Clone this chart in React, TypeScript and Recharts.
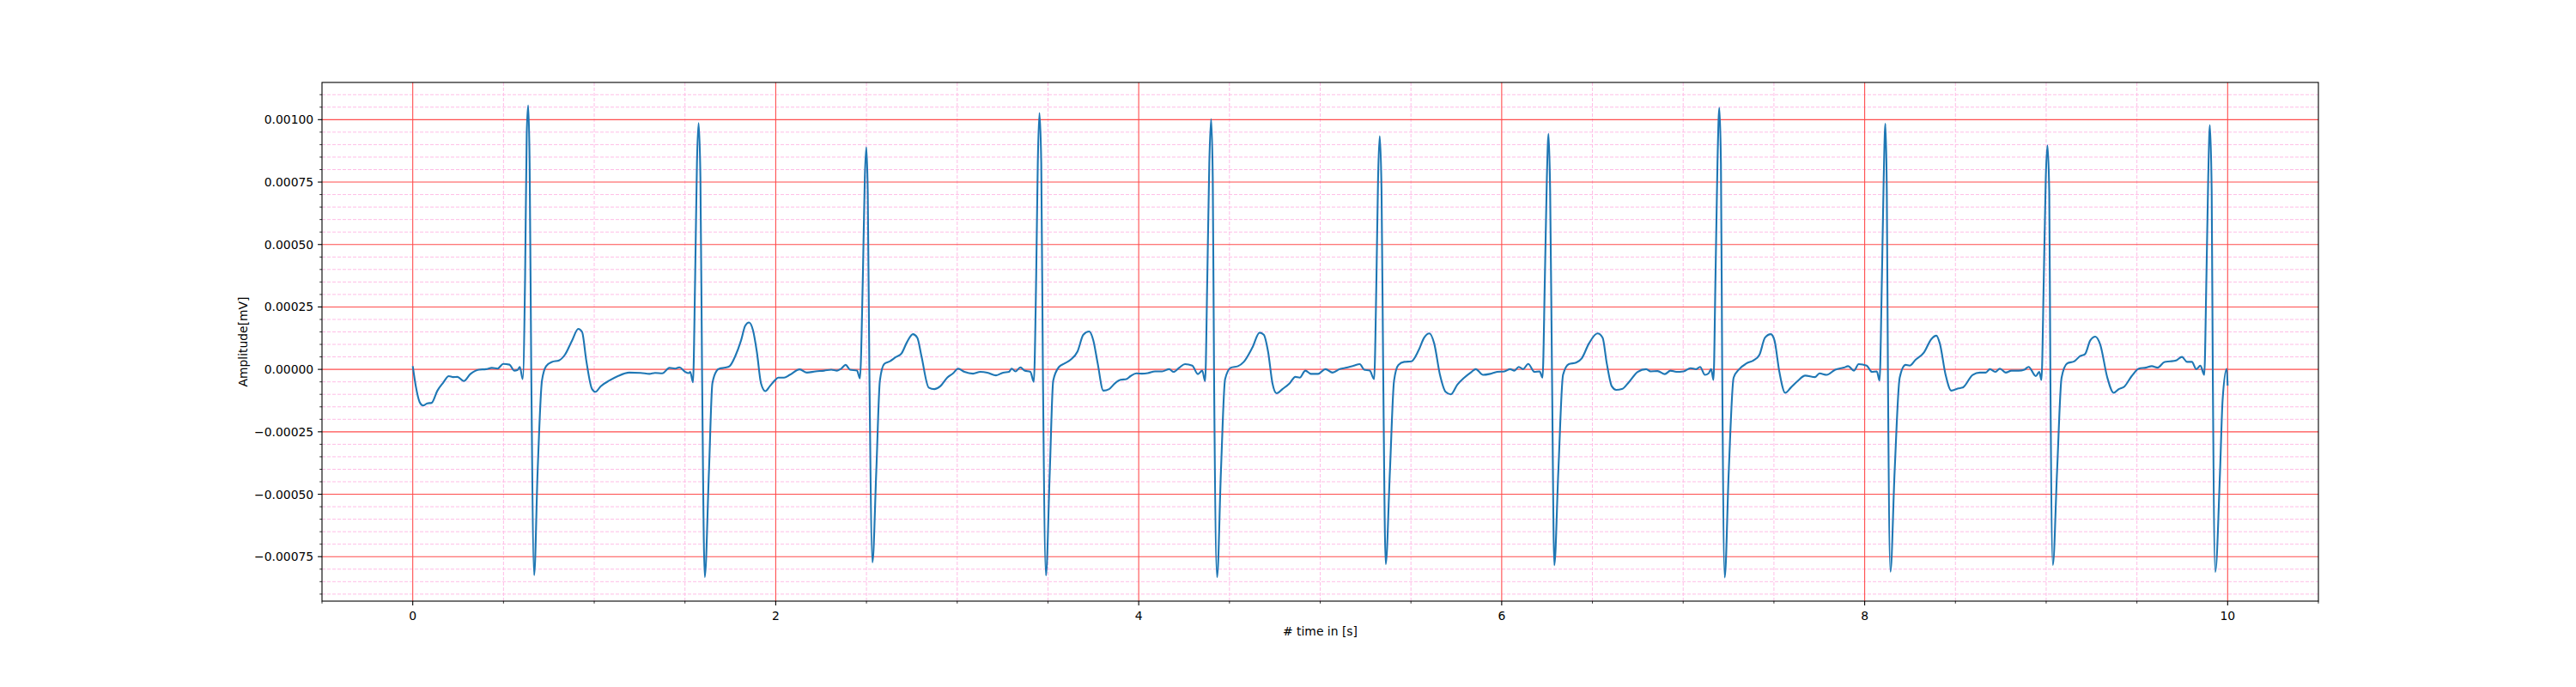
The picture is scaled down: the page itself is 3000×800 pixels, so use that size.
import { LineChart, Line, XAxis, YAxis, CartesianGrid } from 'recharts';

// ECG trace: [time in s, amplitude in units of 1e-4 mV]
const beat1 = [
  [0, 0.13], [0.017, -0.68], [0.038, -1.31], [0.057, -1.45], [0.08, -1.36], [0.104, -1.34],
  [0.136, -0.85], [0.167, -0.54], [0.199, -0.27], [0.223, -0.31], [0.246, -0.3], [0.281, -0.47],
  [0.317, -0.19], [0.365, -0.01], [0.404, 0.01], [0.436, 0.06], [0.467, 0.03], [0.499, 0.22],
  [0.533, 0.19], [0.559, -0.05], [0.578, -0.02], [0.59, 0.1], [0.606, -0.39], [0.619, 3.68],
  [0.628, 9.4], [0.636, 10.57], [0.644, 8.26], [0.653, 0], [0.669, -8.24], [0.688, -4.1],
  [0.712, -0.45], [0.735, 0.13], [0.767, 0.3], [0.806, 0.36], [0.838, 0.58], [0.878, 1.16],
  [0.912, 1.62], [0.933, 1.5], [0.956, 0.36], [0.988, -0.79], [1.007, -0.9], [1.035, -0.68],
  [1.083, -0.45], [1.13, -0.27], [1.193, -0.13], [1.256, -0.14], [1.304, -0.18], [1.335, -0.14],
  [1.375, -0.16], [1.414, 0.06], [1.446, 0.03], [1.469, 0.08], [1.501, -0.1], [1.521, -0.15],
  [1.529, -0.1],
];
const beat2 = [
  [1.544, -0.52], [1.556, 3.68], [1.566, 8.26], [1.575, 9.86], [1.585, 7.69], [1.594, 0],
  [1.609, -8.32], [1.632, -4.1], [1.651, -0.56], [1.675, -0.05], [1.69, 0.03], [1.722, 0.07],
  [1.746, 0.13], [1.777, 0.53], [1.809, 1.16], [1.832, 1.75], [1.853, 1.88], [1.875, 1.56],
  [1.896, 0.7], [1.919, -0.56], [1.943, -0.87], [1.967, -0.68], [1.998, -0.42], [2.014, -0.33],
  [2.046, -0.33], [2.077, -0.22], [2.132, 0], [2.172, -0.13], [2.219, -0.08], [2.267, -0.05],
  [2.306, -0.01], [2.338, -0.05], [2.361, 0.03], [2.385, 0.18], [2.409, -0.01], [2.448, -0.05],
];
const beat3 = [
  [2.464, -0.36], [2.48, 3.68], [2.491, 7.69], [2.499, 8.89], [2.507, 7.11], [2.516, 0],
  [2.533, -7.73], [2.554, -4.1], [2.574, -0.45], [2.598, 0.22], [2.63, 0.33], [2.661, 0.49],
  [2.693, 0.64], [2.724, 1.1], [2.756, 1.41], [2.78, 1.27], [2.803, 0.53], [2.843, -0.73],
  [2.874, -0.79], [2.906, -0.68], [2.945, -0.33], [2.977, -0.16], [3.005, 0.03], [3.04, -0.1],
  [3.087, -0.17], [3.127, -0.1], [3.166, -0.13], [3.214, -0.24], [3.253, -0.13], [3.285, -0.1],
  [3.3, 0.03], [3.321, -0.08], [3.348, 0.08], [3.371, -0.05], [3.403, -0.1],
];
const beat4 = [
  [3.422, -0.5], [3.435, 3.68], [3.444, 8.26], [3.453, 10.27], [3.463, 8.26], [3.472, 0],
  [3.489, -8.25], [3.51, -4.1], [3.529, -0.45], [3.561, 0.1], [3.592, 0.24], [3.624, 0.38],
  [3.663, 0.72], [3.695, 1.39], [3.727, 1.52], [3.75, 1.16], [3.774, 0.24], [3.805, -0.85],
  [3.837, -0.79], [3.869, -0.56], [3.9, -0.42], [3.932, -0.39], [3.955, -0.27], [3.987, -0.16],
  [4.018, -0.17], [4.05, -0.15], [4.09, -0.08], [4.129, -0.08], [4.168, 0.01], [4.192, -0.1],
  [4.224, 0.07], [4.255, 0.21], [4.295, 0.15], [4.326, -0.19], [4.35, -0.05],
];
const beat5 = [
  [4.366, -0.47], [4.378, 3.68], [4.389, 8.26], [4.399, 10.02], [4.408, 7.69], [4.415, 0],
  [4.432, -8.32], [4.453, -4.1], [4.476, -0.39], [4.508, 0.07], [4.547, 0.13], [4.579, 0.3],
  [4.626, 0.87], [4.666, 1.47], [4.689, 1.39], [4.713, 0.7], [4.737, -0.56], [4.76, -0.96],
  [4.792, -0.79], [4.831, -0.56], [4.863, -0.3], [4.887, -0.33], [4.918, -0.05], [4.95, -0.18],
  [4.989, -0.18], [5.029, 0.01], [5.068, -0.13], [5.108, 0.01], [5.147, 0.07], [5.186, 0.15],
  [5.218, 0.21], [5.242, -0.01], [5.273, -0.05],
];
const beat6 = [
  [5.297, -0.39], [5.31, 3.68], [5.319, 7.69], [5.328, 9.34], [5.338, 7.11], [5.347, 0],
  [5.361, -7.8], [5.384, -4.1], [5.407, -0.45], [5.431, 0.18], [5.463, 0.3], [5.502, 0.32],
  [5.542, 0.76], [5.573, 1.27], [5.602, 1.44], [5.628, 1.04], [5.66, -0.22], [5.691, -0.9],
  [5.72, -1.0], [5.755, -0.62], [5.794, -0.33], [5.834, -0.1], [5.857, 0.01], [5.897, -0.22],
  [5.936, -0.18], [5.975, -0.1], [6.015, -0.08], [6.047, 0.01], [6.07, -0.05], [6.094, 0.1],
  [6.118, 0.01], [6.146, 0.22], [6.181, -0.1], [6.209, -0.08],
];
const beat7 = [
  [6.225, -0.33], [6.238, 3.68], [6.249, 7.69], [6.258, 9.43], [6.267, 7.11], [6.277, 0],
  [6.29, -7.84], [6.312, -4.1], [6.338, -0.22], [6.37, 0.21], [6.41, 0.27], [6.441, 0.44],
  [6.481, 1.04], [6.528, 1.44], [6.556, 1.27], [6.579, 0.24], [6.607, -0.68], [6.631, -0.82],
  [6.662, -0.79], [6.702, -0.5], [6.749, -0.1], [6.796, 0.01], [6.82, -0.08], [6.859, -0.07],
  [6.899, -0.19], [6.93, -0.05], [6.962, -0.1], [7.001, -0.08], [7.041, 0.05], [7.072, 0.01],
  [7.093, 0.1], [7.12, -0.22], [7.14, -0.16], [7.154, 0.01],
];
const beat8 = [
  [7.167, -0.42], [7.178, 3.68], [7.189, 8.26], [7.199, 10.47], [7.208, 8.26], [7.215, 0],
  [7.229, -8.33], [7.251, -4.1], [7.278, -0.33], [7.309, 0.01], [7.349, 0.24], [7.388, 0.36],
  [7.42, 0.58], [7.451, 1.27], [7.483, 1.41], [7.503, 1.16], [7.53, -0.1], [7.562, -0.94],
  [7.593, -0.73], [7.633, -0.45], [7.672, -0.25], [7.727, -0.31], [7.751, -0.16], [7.791, -0.22],
  [7.838, -0.01], [7.885, 0.07], [7.909, 0.13], [7.941, -0.05], [7.967, 0.21], [8.011, 0.15],
  [8.04, -0.1], [8.067, -0.08],
];
const beat9 = [
  [8.082, -0.45], [8.095, 3.68], [8.105, 7.69], [8.114, 9.84], [8.122, 7.11], [8.128, 0],
  [8.142, -8.1], [8.165, -4.1], [8.193, -0.33], [8.225, 0.18], [8.248, 0.15], [8.28, 0.38],
  [8.327, 0.68], [8.367, 1.21], [8.395, 1.35], [8.414, 1.04], [8.446, -0.22], [8.477, -0.85],
  [8.516, -0.76], [8.54, -0.73], [8.595, -0.22], [8.635, -0.13], [8.667, -0.13], [8.69, 0.01],
  [8.719, -0.1], [8.745, 0.03], [8.777, -0.13], [8.809, -0.05], [8.848, -0.05], [8.88, -0.01],
  [8.903, 0.1], [8.943, -0.27], [8.962, -0.1],
];
const beat10 = [
  [8.974, -0.42], [8.987, 3.68], [8.998, 7.69], [9.007, 8.97], [9.017, 7.11], [9.023, 0],
  [9.037, -7.83], [9.06, -4.1], [9.085, -0.33], [9.116, 0.24], [9.156, 0.33], [9.187, 0.53],
  [9.214, 0.61], [9.243, 1.16], [9.271, 1.31], [9.298, 0.99], [9.337, -0.33], [9.372, -0.94],
  [9.4, -0.79], [9.432, -0.68], [9.471, -0.27], [9.511, 0.03], [9.55, 0.07], [9.582, 0.13],
  [9.614, 0.07], [9.653, 0.3], [9.684, 0.32], [9.716, 0.36], [9.748, 0.5], [9.776, 0.3],
  [9.803, 0.3], [9.827, 0.01], [9.85, 0.15],
];
const beat11 = [
  [9.871, -0.22], [9.883, 3.68], [9.893, 7.69], [9.902, 9.78], [9.912, 7.11], [9.918, 0],
  [9.932, -8.11], [9.958, -4.1], [9.972, -1.25], [9.995, 0.02], [10.0, -0.65],
];

const AMP_UNIT = 1e-4;

const xMajorTicks = [0, 2, 4, 6, 8, 10];
const xTickLabels = ['0', '2', '4', '6', '8', '10'];
const xMinorTicks = [-0.5, 0.5, 1, 1.5, 2.5, 3, 3.5, 4.5, 5, 5.5, 6.5, 7, 7.5, 8.5, 9, 9.5, 10.5];

const yMajorTicks = [-0.00075, -0.0005, -0.00025, 0, 0.00025, 0.0005, 0.00075, 0.001];
const yTickLabels = ['\u22120.00075', '\u22120.00050', '\u22120.00025', '0.00000', '0.00025', '0.00050', '0.00075', '0.00100'];
const yMinorTicks = [
  -0.0009, -0.00085, -0.0008, -0.0007, -0.00065, -0.0006, -0.00055, -0.00045, -0.0004,
  -0.00035, -0.0003, -0.0002, -0.00015, -0.0001, -0.00005, 0.00005, 0.0001, 0.00015, 0.0002,
  0.0003, 0.00035, 0.0004, 0.00045, 0.00055, 0.0006, 0.00065, 0.0007, 0.0008, 0.00085,
  0.0009, 0.00095, 0.00105, 0.0011,
];

const beats = [beat1, beat2, beat3, beat4, beat5, beat6, beat7, beat8, beat9, beat10, beat11];
const data = beats.flat().map(([t, a]) => ({ t, v: a * AMP_UNIT }));

const FONT = '"DejaVu Sans", sans-serif';
const FS = 13.9;

function XTick({ x, y, payload }: any) {
  const i = xMajorTicks.indexOf(payload.value);
  const len = i >= 0 ? 4.9 : 2.8;
  return (
    <g>
      <line x1={x} x2={x} y1={y} y2={y + len} stroke='#000' strokeWidth={i >= 0 ? 1.1 : 0.8} />
      {i >= 0 && (
        <text x={x} y={y + 21.5} textAnchor='middle' fontFamily={FONT} fontSize={FS} fill='#000'>
          {xTickLabels[i]}
        </text>
      )}
    </g>
  );
}

function YTick({ x, y, payload }: any) {
  const i = yMajorTicks.indexOf(payload.value);
  const len = i >= 0 ? 4.9 : 2.8;
  return (
    <g>
      <line x1={x - len} x2={x} y1={y} y2={y} stroke='#000' strokeWidth={i >= 0 ? 1.1 : 0.8} />
      {i >= 0 && (
        <text
          x={x - 9.8}
          y={y}
          dy='0.36em'
          textAnchor='end'
          fontFamily={FONT}
          fontSize={FS}
          fill='#000'
        >
          {yTickLabels[i]}
        </text>
      )}
    </g>
  );
}

export default function App() {
  const xTicks = [...xMajorTicks, ...xMinorTicks].sort((a, b) => a - b);
  const yTicks = [...yMajorTicks, ...yMinorTicks].sort((a, b) => a - b);
  const xMinorGrid = xMinorTicks.filter((t) => t > -0.5 && t < 10.5);

  return (
    <div style={{ position: 'absolute', left: 0, top: 0, width: 3000, height: 800, background: '#fff' }}>
      <LineChart
        width={3000}
        height={800}
        data={data}
        margin={{ top: 96, right: 300, bottom: 60, left: 295 }}
      >
        <CartesianGrid
          horizontalValues={yMinorTicks}
          verticalValues={xMinorGrid}
          stroke='#ffbde6'
          strokeWidth={1}
          strokeDasharray='4 2'
        />
        <CartesianGrid
          horizontalValues={yMajorTicks}
          verticalValues={xMajorTicks}
          stroke='#ff4d4d'
          strokeWidth={1.1}
        />
        <XAxis
          dataKey='t'
          type='number'
          domain={[-0.5, 10.5]}
          allowDataOverflow
          ticks={xTicks}
          interval={0}
          height={40}
          tickSize={0}
          tickMargin={0}
          tickLine={false}
          axisLine={false}
          tick={<XTick />}
        />
        <YAxis
          type='number'
          domain={[-0.000928, 0.001149]}
          allowDataOverflow
          ticks={yTicks}
          interval={0}
          width={80}
          tickSize={0}
          tickMargin={0}
          tickLine={false}
          axisLine={false}
          tick={<YTick />}
        />
        <Line
          type='monotone'
          dataKey='v'
          stroke='#1f77b4'
          strokeWidth={2.1}
          dot={false}
          isAnimationActive={false}
        />
      </LineChart>
      <svg
        width={3000}
        height={800}
        style={{ position: 'absolute', left: 0, top: 0, pointerEvents: 'none' }}
      >
        <rect x={375} y={96} width={2325} height={604} fill='none' stroke='#000' strokeWidth={1.1} />
        <text x={1537.5} y={740} textAnchor='middle' fontFamily={FONT} fontSize={FS} fill='#000'>
          # time in [s]
        </text>
        <text
          x={0}
          y={0}
          transform='translate(288 398) rotate(-90)'
          textAnchor='middle'
          fontFamily={FONT}
          fontSize={FS}
          fill='#000'
        >
          Amplitude[mV]
        </text>
      </svg>
    </div>
  );
}
